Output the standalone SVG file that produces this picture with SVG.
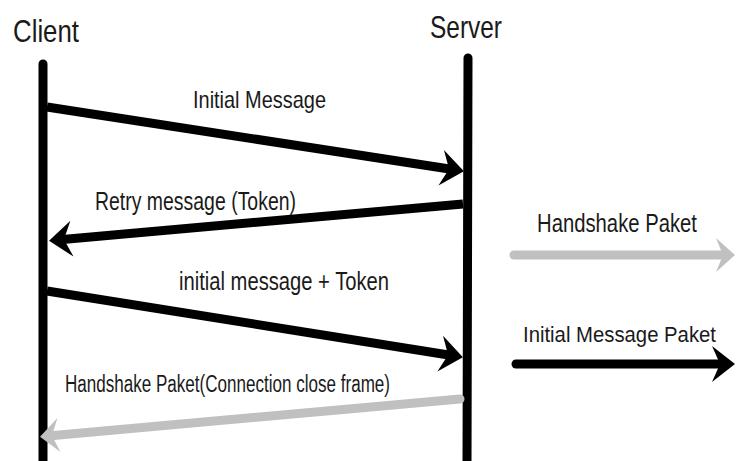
<svg xmlns="http://www.w3.org/2000/svg" width="736" height="461" viewBox="0 0 736 461">
<style>
.t{font-family:"Liberation Sans",Arial,sans-serif;fill:#1a1a1a;}
.life{stroke:#000;stroke-width:9;stroke-linecap:round;fill:none;}
.blk{stroke:#000;stroke-width:9;fill:none;}
.gry{stroke:#c0c0c0;stroke-width:9;fill:none;}
</style>
<defs>
<marker id="hb" markerUnits="userSpaceOnUse" viewBox="-26 -19 30 38" markerWidth="30" markerHeight="38" refX="-8" refY="0" orient="auto">
<path d="M0,0 L-23,-18 L-15,0 L-23,18 Z" fill="#000"/>
</marker>
<marker id="hg" markerUnits="userSpaceOnUse" viewBox="-26 -19 30 38" markerWidth="30" markerHeight="38" refX="-8" refY="0" orient="auto">
<path d="M0,0 L-19,-17 L-12,0 L-19,17 Z" fill="#c0c0c0"/>
</marker>
</defs>
<g id="client">
<text class="t" x="13" y="42" font-size="32" textLength="66" lengthAdjust="spacingAndGlyphs">Client</text>
<line class="life" x1="43" y1="64" x2="43" y2="470"/>
</g>
<g id="server">
<text class="t" x="430" y="38" font-size="32" textLength="72" lengthAdjust="spacingAndGlyphs">Server</text>
<line class="life" x1="468" y1="58" x2="467" y2="470"/>
</g>
<g id="legend-handshake">
<text class="t" x="537" y="232" font-size="25" textLength="160" lengthAdjust="spacingAndGlyphs">Handshake Paket</text>
</g>
<g id="legend-initial">
<text class="t" x="523" y="342" font-size="22" textLength="193" lengthAdjust="spacingAndGlyphs">Initial Message Paket</text>
</g>
<g id="connectors">
<line class="blk" x1="47" y1="107" x2="456" y2="170" marker-end="url(#hb)"/>
<text class="t" x="193" y="108" font-size="24" textLength="133" lengthAdjust="spacingAndGlyphs">Initial Message</text>
<line class="blk" x1="463" y1="204" x2="57" y2="240" marker-end="url(#hb)"/>
<text class="t" x="95" y="210" font-size="25" textLength="201" lengthAdjust="spacingAndGlyphs">Retry message (Token)</text>
<line class="blk" x1="47" y1="291" x2="455" y2="356" marker-end="url(#hb)"/>
<text class="t" x="179" y="290" font-size="25" textLength="210" lengthAdjust="spacingAndGlyphs">initial message + Token</text>
<path class="gry" stroke-linecap="round" d="M460,399 L48,436" marker-end="url(#hg)"/>
<text class="t" x="65" y="392" font-size="23" textLength="325" lengthAdjust="spacingAndGlyphs">Handshake Paket(Connection close frame)</text>
<path class="gry" stroke-linecap="round" d="M514,255 L727,255" marker-end="url(#hg)"/>
<path class="blk" stroke-linecap="round" d="M516,364 L727,364" marker-end="url(#hb)"/>
</g>
</svg>
